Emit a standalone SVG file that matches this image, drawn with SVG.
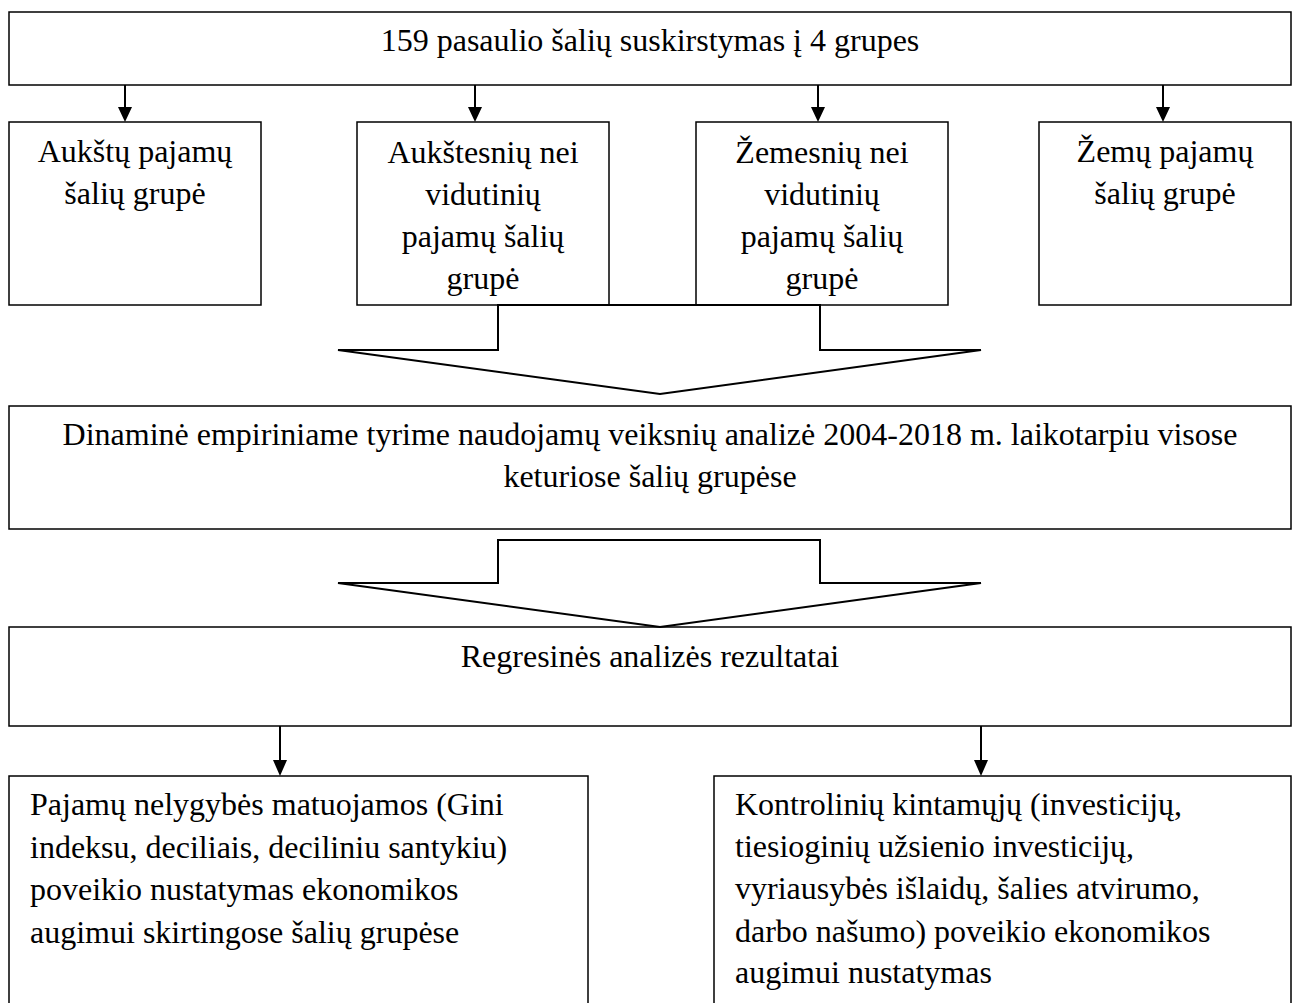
<svg xmlns="http://www.w3.org/2000/svg" width="1292" height="1003" viewBox="0 0 1292 1003">
<style>
.box{fill:#fff;stroke:#000;stroke-width:1.5}
.t{font-family:"Liberation Serif","Times New Roman",serif;font-size:32px;fill:#000}
.c{text-anchor:middle}
.ln{stroke:#000;stroke-width:2;fill:none}
.blk{fill:#fff;stroke:#000;stroke-width:2;stroke-linejoin:miter}
</style>
<defs>
<marker id="ah" markerWidth="14" markerHeight="15" refX="7" refY="15" orient="auto" markerUnits="userSpaceOnUse" viewBox="0 0 14 15">
<path d="M0,0 L14,0 L7,15 Z" fill="#000" transform="rotate(-90 7 7.5) translate(0,0)"/>
</marker>
</defs>
<g id="n-top">
<rect class="box" x="9" y="12" width="1282" height="73"/>
<text class="t c" x="650" y="51">159 pasaulio šalių suskirstymas į 4 grupes</text>
</g>
<g id="n-high">
<rect class="box" x="9" y="122" width="252" height="183"/>
<text class="t c" x="135" y="162">Aukštų pajamų</text>
<text class="t c" x="135" y="204">šalių grupė</text>
</g>
<g id="n-uppermid">
<rect class="box" x="357" y="122" width="252" height="183"/>
<text class="t c" x="483" y="163">Aukštesnių nei</text>
<text class="t c" x="483" y="205">vidutinių</text>
<text class="t c" x="483" y="247">pajamų šalių</text>
<text class="t c" x="483" y="289">grupė</text>
</g>
<g id="n-lowermid">
<rect class="box" x="696" y="122" width="252" height="183"/>
<text class="t c" x="822" y="163">Žemesnių nei</text>
<text class="t c" x="822" y="205">vidutinių</text>
<text class="t c" x="822" y="247">pajamų šalių</text>
<text class="t c" x="822" y="289">grupė</text>
</g>
<g id="n-low">
<rect class="box" x="1039" y="122" width="252" height="183"/>
<text class="t c" x="1165" y="162">Žemų pajamų</text>
<text class="t c" x="1165" y="204">šalių grupė</text>
</g>
<g id="n-dyn">
<rect class="box" x="9" y="406" width="1282" height="123"/>
<text class="t c" x="650" y="445">Dinaminė empiriniame tyrime naudojamų veiksnių analizė 2004-2018 m. laikotarpiu visose</text>
<text class="t c" x="650" y="487">keturiose šalių grupėse</text>
</g>
<g id="n-reg">
<rect class="box" x="9" y="627" width="1282" height="99"/>
<text class="t c" x="650" y="667">Regresinės analizės rezultatai</text>
</g>
<g id="n-ineq">
<path class="box" d="M9,1010 L9,776 L588,776 L588,1010"/>
<text class="t" x="30" y="815">Pajamų nelygybės matuojamos (Gini</text>
<text class="t" x="30" y="858">indeksu, deciliais, deciliniu santykiu)</text>
<text class="t" x="30" y="900">poveikio nustatymas ekonomikos</text>
<text class="t" x="30" y="943">augimui skirtingose šalių grupėse</text>
</g>
<g id="n-ctrl">
<path class="box" d="M714,1010 L714,776 L1291,776 L1291,1010"/>
<text class="t" x="735" y="815">Kontrolinių kintamųjų (investicijų,</text>
<text class="t" x="735" y="857">tiesioginių užsienio investicijų,</text>
<text class="t" x="735" y="899">vyriausybės išlaidų, šalies atvirumo,</text>
<text class="t" x="735" y="942">darbo našumo) poveikio ekonomikos</text>
<text class="t" x="735" y="983">augimui nustatymas</text>
</g>
<g id="connectors">
<line class="ln" x1="125" y1="85" x2="125" y2="108"/>
<path d="M118,107 L132,107 L125,122 Z"/>
<line class="ln" x1="475" y1="85" x2="475" y2="108"/>
<path d="M468,107 L482,107 L475,122 Z"/>
<line class="ln" x1="818" y1="85" x2="818" y2="108"/>
<path d="M811,107 L825,107 L818,122 Z"/>
<line class="ln" x1="1163" y1="85" x2="1163" y2="108"/>
<path d="M1156,107 L1170,107 L1163,122 Z"/>
<polygon class="blk" points="498,305 498,350 338,350 660,394 981,350 820,350 820,305"/>
<polygon class="blk" points="498,540 498,583 338,583 660,627 981,583 820,583 820,540"/>
<line class="ln" x1="280" y1="726" x2="280" y2="761"/>
<path d="M273,760 L287,760 L280,776 Z"/>
<line class="ln" x1="981" y1="726" x2="981" y2="761"/>
<path d="M974,760 L988,760 L981,776 Z"/>
</g>
</svg>
